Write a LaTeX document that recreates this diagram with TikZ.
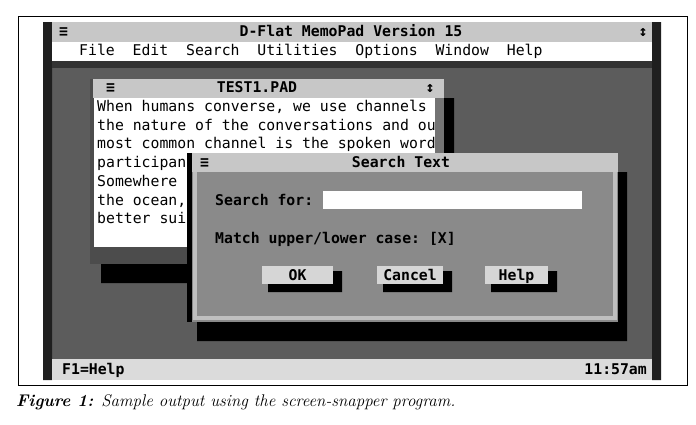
\documentclass[tikz,border=0pt]{standalone}
\usepackage{fontspec}
\newfontfamily\scrmono{DejaVu Sans Mono}

\begin{document}
\begin{tikzpicture}[x=1pt,y=-1pt,
  desk/.style={fill=black!64},
  lite/.style={fill=black!22},
  dlgbody/.style={fill=black!46},
  shade/.style={fill=black},
  txt/.style={font={\scrmono\frenchspacing\fontsize{14.8}{16}\selectfont}, inner sep=0pt, anchor=base west},
  hot/.style={txt, font={\scrmono\bfseries\frenchspacing\fontsize{14.8}{16}\selectfont}}]
\useasboundingbox (0,0) rectangle (696,424);
\draw[line width=0.8pt] (18,16) rectangle (687,385);
\fill[desk] (43,22) rectangle (661,380);
\fill[black!88] (43,22) rectangle (52,380) (652,22) rectangle (661,380);
\fill[lite] (52,22) rectangle (652,42);
\fill[white] (52,42) rectangle (652,61);
\fill[black!80] (52,61) rectangle (652,68);
\fill[black!14] (52,359) rectangle (652,380);
\node[hot] (appbox) at (59,36) {≡};
\node[hot, anchor=base] (apptitle) at (351,36) {D-Flat MemoPad Version 15};
\node[hot, anchor=base] (appsize) at (643,36) {↕};
\node[txt] (menubar) at (79,55) {File\ \ Edit\ \ Search\ \ Utilities\ \ Options\ \ Window\ \ Help};
\node[hot] (helpkey) at (62,374) {F1=Help};
\node[hot, anchor=base east] (clock) at (647,374) {11:57am};
\fill[shade] (444,98) rectangle (454,283) (101,264) rectangle (454,283);
\fill[black!70] (90,79) rectangle (444,264);
\fill[lite] (93,79) rectangle (444,98);
\fill[white] (94,98) rectangle (435,247);
\fill[black!55] (435,98) rectangle (444,247);
\node[hot] (padbox) at (106,92) {≡};
\node[hot, anchor=base] (padtitle) at (257,92) {TEST1.PAD};
\node[hot, anchor=base] (padsize) at (430,92) {↕};
\foreach \t [count=\i] in {{When humans converse, we use channels},{the nature of the conversations and ou},{most common channel is the spoken word},participan,Somewhere,{the ocean,},{better sui}}
  \node[txt] (padline\i) at (97,{92.6+18.75*\i}) {\t};
\fill[shade] (618,172) rectangle (627,341) (197,322) rectangle (627,341);
\fill[dlgbody] (187,153) rectangle (618,322);
\draw[black!25, line width=4pt] (195,172) -- (195,318) -- (615,318) -- (615,172);
\fill[shade] (187,153) rectangle (192,322);
\fill[lite] (192,153) rectangle (618,172);
\node[hot] (dlgbox) at (200,167) {≡};
\node[hot, anchor=base] (dlgtitle) at (401,167) {Search Text};
\fill[white] (323,191) rectangle (582,209);
\node[hot] (findlabel) at (215,205) {Search for:};
\node[hot] (caselabel) at (215,243) {Match upper/lower case: [X]};
\foreach \a/\b/\t in {262/333/OK,377/443/Cancel,485/548/Help}{
  \fill[shade] (\b,271) rectangle (\b+9,292) (\a+6,284) rectangle (\b+9,292);
  \fill[black!16] (\a,266) rectangle (\b,284);
  \node[hot, anchor=base] (btn\t) at ({(\a+\b)/2},280) {\t};
}
\node[font={\fontsize{16.9}{19}\selectfont\itshape}, inner sep=0pt, anchor=base west] (caption) at (16,406) {\textbf{Figure 1:} Sample output using the screen-snapper program.};
\end{tikzpicture}
\end{document}
